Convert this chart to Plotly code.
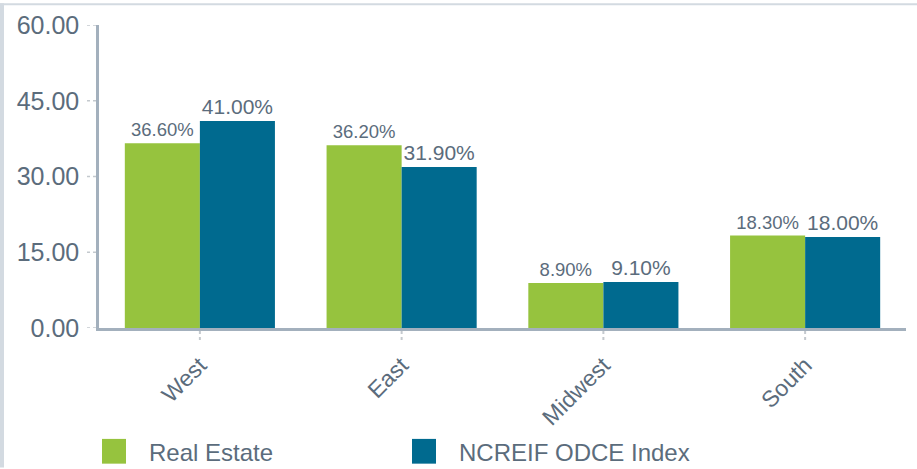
import plotly.graph_objects as go

categories = ["West", "East", "Midwest", "South"]
real_estate = [36.6, 36.2, 8.9, 18.3]
ncreif = [41.0, 31.9, 9.1, 18.0]
y_ticks = [0, 15, 30, 45, 60]
series_names = ["Real Estate", "NCREIF ODCE Index"]

GREEN = "#96c33e"
BLUE = "#006a8f"
TXT = "#5b6c7c"
FONT = "Liberation Sans, Arial, sans-serif"

W, H = 917, 469
ML, MR, MT, MB = 99, 11, 22, 141
PW = W - ML - MR
PH = H - MT - MB


def px_x(px):
    return (px - ML) / PW


def px_y(py):
    return (H - MB - py) / PH


fig = go.Figure()
fig.add_trace(go.Bar(
    x=categories, y=real_estate, name=series_names[0], marker_color=GREEN,
    marker_line_width=0,
    text=[f"{v:.2f}%" for v in real_estate], textposition="outside",
    textfont=dict(size=18.5, color=TXT, family=FONT), cliponaxis=False,
))
fig.add_trace(go.Bar(
    x=categories, y=ncreif, name=series_names[1], marker_color=BLUE,
    marker_line_width=0,
    text=[f"{v:.2f}%" for v in ncreif], textposition="outside",
    textfont=dict(size=21, color=TXT, family=FONT), cliponaxis=False,
))

shapes = []
annotations = []
# dotted y ticks
for t in y_ticks:
    shapes.append(dict(type="line", xref="paper", yref="y",
                       x0=px_x(87), x1=px_x(97), y0=t, y1=t,
                       line=dict(color="#c4c9ce", width=1.5, dash="dot")))
# dotted x ticks at category centers
for c in categories:
    shapes.append(dict(type="line", xref="x", yref="paper",
                       x0=c, x1=c, y0=px_y(331), y1=px_y(343),
                       line=dict(color="#c4c9ce", width=2, dash="dot")))
# page frame strips (left and top)
shapes.append(dict(type="rect", xref="paper", yref="paper",
                   x0=px_x(0), x1=px_x(4), y0=px_y(H), y1=px_y(0),
                   fillcolor="#d3dae1", line=dict(width=0), layer="below"))
shapes.append(dict(type="rect", xref="paper", yref="paper",
                   x0=px_x(0), x1=px_x(W), y0=px_y(2), y1=px_y(0),
                   fillcolor="#d3dae1", line=dict(width=0), layer="below"))
# custom legend
legend_x = [102, 412]
for nm, col, lx in zip(series_names, [GREEN, BLUE], legend_x):
    shapes.append(dict(type="rect", xref="paper", yref="paper",
                       x0=px_x(lx), x1=px_x(lx + 24), y0=px_y(465), y1=px_y(440),
                       fillcolor=col, line=dict(width=0)))
    annotations.append(dict(xref="paper", yref="paper", x=px_x(lx + 45), y=px_y(454),
                            xanchor="left", yanchor="middle", showarrow=False,
                            text=nm, font=dict(size=24, color=TXT, family=FONT)))

fig.update_layout(
    width=W, height=H,
    margin=dict(l=ML, r=MR, t=MT, b=MB),
    paper_bgcolor="white", plot_bgcolor="white",
    barmode="group", bargap=0.256, bargroupgap=0,
    font=dict(family=FONT, color=TXT),
    shapes=shapes, annotations=annotations,
    showlegend=False,
    xaxis=dict(showline=True, linecolor="#a3b0bd", linewidth=2.5,
               ticks="outside", ticklen=12, tickcolor="rgba(0,0,0,0)",
               tickangle=-45, tickfont=dict(size=23, color=TXT, family=FONT),
               showgrid=False, zeroline=False),
    yaxis=dict(range=[0, 60], tickvals=y_ticks, tickformat=".2f",
               showline=True, linecolor="#a3b0bd", linewidth=2.5,
               ticks="outside", ticklen=12, tickcolor="rgba(0,0,0,0)",
               tickfont=dict(size=25, color=TXT, family=FONT),
               showgrid=False, zeroline=False),
)

fig.write_html("out.html", config={"displayModeBar": False},
               post_script="document.body.style.margin='0';")
